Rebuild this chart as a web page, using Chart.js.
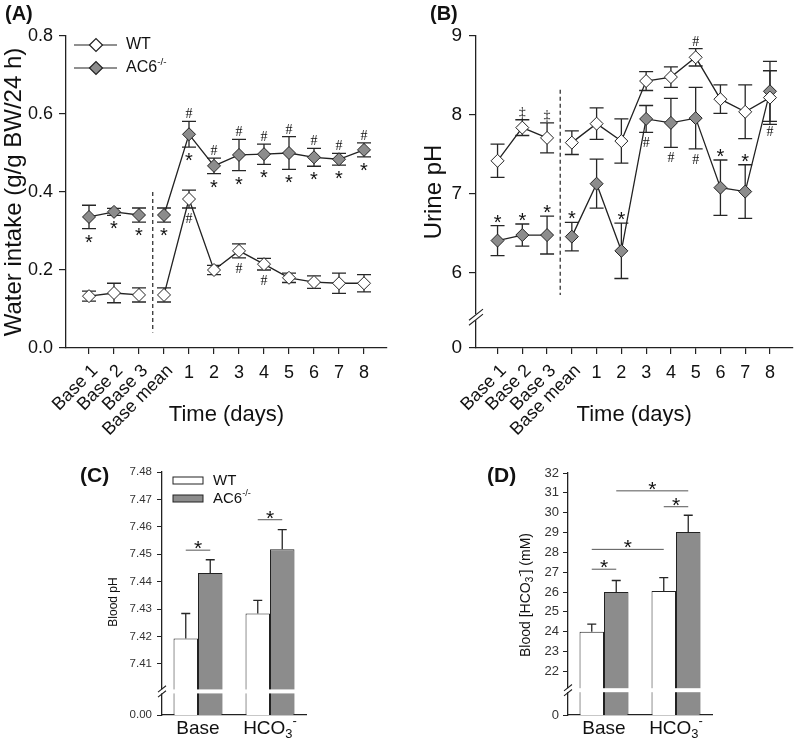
<!DOCTYPE html>
<meta charset="utf-8">
<title>AC6 water intake, urine pH and blood acid-base</title>
<script src="https://cdn.jsdelivr.net/npm/chart.js@4.4.1/dist/chart.umd.min.js"></script>
<style>
body {
	margin: 0;
	background: #fff;
}
canvas {
	position: absolute;
}
</style>

<canvas id="a" width="400" height="440" style="left:0;top:0"></canvas>
<canvas id="b" width="400" height="440" style="left:400px;top:0"></canvas>
<canvas id="c" width="400" height="301" style="left:0;top:440px"></canvas>
<canvas id="d" width="400" height="301" style="left:400px;top:440px"></canvas>

<script>
// x axis of the two time courses
const days = ['Base 1', 'Base 2', 'Base 3', 'Base mean', '1', '2', '3', '4', '5', '6', '7', '8'];

// (A) water intake, g/g BW/24 h
const wtWater = [0.133, 0.141, 0.136, 0.136, 0.382, 0.200, 0.249, 0.215, 0.180, 0.169, 0.166, 0.166];
const wtWaterErr = [0.013, 0.025, 0.018, 0.018, 0.023, 0.012, 0.018, 0.015, 0.012, 0.016, 0.026, 0.022];
const acWater = [0.336, 0.349, 0.341, 0.341, 0.548, 0.467, 0.495, 0.497, 0.500, 0.489, 0.484, 0.508];
const acWaterErr = [0.030, 0.009, 0.018, 0.018, 0.033, 0.020, 0.040, 0.026, 0.042, 0.023, 0.015, 0.018];
const wtWaterAbove = ['', '', '', '', '', '', '', '', '', '', '', ''];
const wtWaterBelow = ['', '', '', '', '#', '', '#', '#', '', '', '', ''];
const acWaterAbove = ['', '', '', '', '#', '#', '#', '#', '#', '#', '#', '#'];
const acWaterBelow = ['*', '*', '*', '*', '*', '*', '*', '*', '*', '*', '*', '*'];

// (B) urine pH
const wtUrine = [7.42, 7.84, 7.71, 7.65, 7.89, 7.67, 8.43, 8.48, 8.73, 8.20, 8.04, 8.22];
const wtUrineErr = [0.21, 0.10, 0.19, 0.15, 0.20, 0.28, 0.12, 0.13, 0.11, 0.18, 0.34, 0.34];
const acUrine = [6.41, 6.48, 6.48, 6.46, 7.13, 6.28, 7.95, 7.90, 7.96, 7.08, 7.03, 8.30];
const acUrineErr = [0.19, 0.14, 0.24, 0.18, 0.31, 0.35, 0.17, 0.31, 0.39, 0.35, 0.34, 0.38];
const wtUrineAbove = ['', '‡', '‡', '', '', '', '', '', '#', '', '', ''];
const wtUrineBelow = ['', '', '', '', '', '', '', '', '', '', '', ''];
const acUrineAbove = ['*', '*', '*', '*', '', '*', '', '', '', '*', '*', ''];
const acUrineBelow = ['', '', '', '', '', '', '#', '#', '#', '', '', '#'];
const urineTicks = [6, 7, 8, 9];

// (C) blood pH, (D) blood bicarbonate
const groups = ['Base', 'HCO3-'];
const wtBloodPh = [7.4193, 7.4284];
const wtBloodPhErr = [0.0091, 0.0048];
const acBloodPh = [7.4432, 7.4518];
const acBloodPhErr = [0.0048, 0.0072];
const bloodPhTicks = [7.41, 7.42, 7.43, 7.44, 7.45, 7.46, 7.47, 7.48];
// [dataset, index, dataset, index, height of the bracket]
const bloodPhSig = [[0, 0, 1, 0, 7.4515], [0, 1, 1, 1, 7.4626]];

const wtBicarb = [24.0, 26.05];
const wtBicarbErr = [0.38, 0.68];
const acBicarb = [26.0, 29.02];
const acBicarbErr = [0.58, 0.85];
const bicarbTicks = [22, 23, 24, 25, 26, 27, 28, 29, 30, 31, 32];
const bicarbSig = [[0, 0, 1, 0, 27.15], [0, 0, 0, 1, 28.15], [0, 1, 1, 1, 30.3], [1, 0, 1, 1, 31.1]];

const family = '"Liberation Sans", Arial, sans-serif';
const serif = '"Liberation Serif", "Times New Roman", serif';
const ink = '#222';
const gray = '#8c8c8c';

Chart.defaults.font.family = family;
Chart.defaults.color = '#111';
Chart.defaults.animation = false;

// text with sub/superscripts: parts are [text, size, dy]
function rich(ctx, parts, x, y, align) {
	let w = 0;
	parts.forEach(([t, size]) => {
		ctx.font = size + 'px ' + family;
		w += ctx.measureText(t).width;
	});
	let cx = align == 'center' ? x - w / 2 : x;
	ctx.textAlign = 'left';
	ctx.textBaseline = 'middle';
	parts.forEach(([t, size, dy]) => {
		ctx.font = size + 'px ' + family;
		ctx.fillText(t, cx, y + (dy || 0));
		cx += ctx.measureText(t).width;
	});
}

function labelParts(label, size) {
	if (label == 'AC6-/-') return [['AC6', size], ['-/-', size * 0.62, -size * 0.35]];
	if (label == 'HCO3-') return [['HCO', size], ['3', size * 0.68, size * 0.3], ['-', size * 0.68, -size * 0.4]];
	return [[label, size]];
}

function panelLabel(chart, text, x, y, size) {
	const ctx = chart.ctx;
	ctx.save();
	ctx.fillStyle = '#111';
	ctx.font = 'bold ' + size + 'px ' + family;
	ctx.textAlign = 'left';
	ctx.textBaseline = 'middle';
	ctx.fillText(text, x, y);
	ctx.restore();
}

function errorBars(chart, cap, upOnly) {
	const {ctx, scales: {x, y}} = chart;
	ctx.save();
	ctx.strokeStyle = '#262626';
	ctx.lineWidth = 1.3;
	chart.data.datasets.forEach((ds, di) => {
		const meta = chart.getDatasetMeta(di);
		ds.values.forEach((v, i) => {
			const px = upOnly ? meta.data[i].x : x.getPixelForValue(i);
			const top = y.getPixelForValue(v + ds.errors[i]);
			const bot = y.getPixelForValue(upOnly ? v : v - ds.errors[i]);
			ctx.beginPath();
			ctx.moveTo(px, top);
			ctx.lineTo(px, bot);
			ctx.moveTo(px - cap, top);
			ctx.lineTo(px + cap, top);
			if (!upOnly) {
				ctx.moveTo(px - cap, bot);
				ctx.lineTo(px + cap, bot);
			}
			ctx.stroke();
		});
	});
	ctx.restore();
}

function drawMark(ctx, s, x, y, where) {
	if (s == '*') {
		ctx.font = '20px ' + family;
		ctx.fillText(s, x, where == 'above' ? y + 3 : y + 20);
	} else {
		ctx.font = '14px ' + serif;
		ctx.fillText(s, x, where == 'above' ? y - 3 : y + 15);
	}
}

function marks(chart) {
	const {ctx, scales: {x, y}} = chart;
	ctx.save();
	ctx.fillStyle = '#111';
	ctx.textAlign = 'center';
	ctx.textBaseline = 'alphabetic';
	chart.data.datasets.forEach(ds => {
		ds.values.forEach((v, i) => {
			const px = x.getPixelForValue(i);
			if (ds.above[i]) drawMark(ctx, ds.above[i], px, y.getPixelForValue(v + ds.errors[i]), 'above');
			if (ds.below[i]) drawMark(ctx, ds.below[i], px, y.getPixelForValue(v - ds.errors[i]), 'below');
		});
	});
	ctx.restore();
}

function dashedLine(chart, at, from, to) {
	const {ctx, scales: {x, y}} = chart;
	ctx.save();
	ctx.strokeStyle = ink;
	ctx.lineWidth = 1.2;
	ctx.setLineDash([4, 3]);
	ctx.beginPath();
	ctx.moveTo(x.getPixelForValue(at), y.getPixelForValue(from));
	ctx.lineTo(x.getPixelForValue(at), y.getPixelForValue(to));
	ctx.stroke();
	ctx.restore();
}

function dayLabels(chart) {
	const {ctx, scales: {x}, chartArea} = chart;
	ctx.save();
	ctx.fillStyle = '#111';
	ctx.font = '18px ' + family;
	days.forEach((d, i) => {
		const px = x.getPixelForValue(i);
		if (d.startsWith('Base')) {
			ctx.save();
			ctx.translate(px + 6, chartArea.bottom + 20);
			ctx.rotate(-Math.PI / 4);
			ctx.textAlign = 'right';
			ctx.textBaseline = 'middle';
			ctx.fillText(d, 0, 0);
			ctx.restore();
		} else {
			ctx.textAlign = 'center';
			ctx.textBaseline = 'middle';
			ctx.fillText(d, px, chartArea.bottom + 25);
		}
	});
	ctx.restore();
}

// broken axis: gap in the y axis with two slashes
function axisBreak(chart, value, half, band) {
	const {ctx, scales: {y}, chartArea} = chart;
	const py = y.getPixelForValue(value);
	const ax = chartArea.left;
	ctx.save();
	ctx.fillStyle = '#fff';
	if (band) ctx.fillRect(ax - 2, py - 2, chartArea.right - ax + 2, 4);
	else ctx.fillRect(ax - 2, py - 3, 4, 6);
	ctx.strokeStyle = ink;
	ctx.lineWidth = 1.1;
	ctx.beginPath();
	[-2.5, 2.5].forEach(k => {
		ctx.moveTo(ax - half, py + k + half * 0.8);
		ctx.lineTo(ax + half, py + k - half * 0.8);
	});
	ctx.stroke();
	ctx.restore();
}

function lineLegend(chart) {
	const {ctx, chartArea: {left, top}} = chart;
	ctx.save();
	chart.data.datasets.forEach((ds, k) => {
		const y = top + 9 + k * 23;
		ctx.strokeStyle = ink;
		ctx.lineWidth = 1.2;
		ctx.beginPath();
		ctx.moveTo(left + 8, y);
		ctx.lineTo(left + 51, y);
		ctx.stroke();
		ctx.fillStyle = ds.pointBackgroundColor;
		Chart.helpers.drawPoint(ctx, {pointStyle: 'rectRot', radius: 6.5, borderWidth: 1}, left + 30, y);
		ctx.fillStyle = '#111';
		rich(ctx, labelParts(ds.label, 16), left + 60, y, 'left');
	});
	ctx.restore();
}

function barLegend(chart) {
	const {ctx, chartArea: {left, top}} = chart;
	ctx.save();
	chart.data.datasets.forEach((ds, k) => {
		const y = top + 5 + k * 18;
		ctx.fillStyle = ds.backgroundColor;
		ctx.fillRect(left + 11, y, 30, 7);
		ctx.strokeStyle = ink;
		ctx.lineWidth = 1;
		ctx.strokeRect(left + 11, y, 30, 7);
		ctx.fillStyle = '#111';
		rich(ctx, labelParts(ds.label, 15), left + 51, y + 4, 'left');
	});
	ctx.restore();
}

function sigBars(chart, sig) {
	const {ctx, scales: {y}} = chart;
	ctx.save();
	sig.forEach(([da, ia, db, ib, v]) => {
		const x1 = chart.getDatasetMeta(da).data[ia].x;
		const x2 = chart.getDatasetMeta(db).data[ib].x;
		const py = y.getPixelForValue(v);
		ctx.strokeStyle = '#555';
		ctx.lineWidth = 1;
		ctx.beginPath();
		ctx.moveTo(x1, py);
		ctx.lineTo(x2, py);
		ctx.stroke();
		ctx.fillStyle = '#111';
		ctx.font = '21px ' + family;
		ctx.textAlign = 'center';
		ctx.textBaseline = 'alphabetic';
		ctx.fillText('*', (x1 + x2) / 2, py + 5);
	});
	ctx.restore();
}

function groupLabels(chart) {
	const {ctx, scales: {x}, chartArea} = chart;
	ctx.save();
	ctx.fillStyle = '#111';
	groups.forEach((g, i) => {
		rich(ctx, labelParts(g, 19), x.getPixelForValue(i), chartArea.bottom + 14, 'center');
	});
	ctx.restore();
}

const withBreak = vals => vals.flatMap((v, i) => i == 2 ? [{x: i, y: v}, {x: 2.5, y: null}] : [{x: i, y: v}]);

function series(label, vals, errs, above, below, fill) {
	return {
		label: label,
		data: withBreak(vals),
		values: vals,
		errors: errs,
		above: above,
		below: below,
		borderColor: ink,
		borderWidth: 1.3,
		tension: 0,
		spanGaps: false,
		pointStyle: 'rectRot',
		pointRadius: 6.5,
		pointBackgroundColor: fill,
		pointBorderColor: ink,
		pointBorderWidth: 1,
	};
}

function lineChart(id, o) {
	return new Chart(document.getElementById(id), {
		type: 'line',
		data: {datasets: o.datasets},
		options: {
			responsive: false,
			events: [],
			layout: {padding: {left: 0, top: 36, right: o.right, bottom: 0}},
			plugins: {legend: {display: false}, tooltip: {enabled: false}},
			scales: {
				x: {
					type: 'linear',
					min: o.xMin,
					max: o.xMax,
					afterBuildTicks: s => { s.ticks = days.map((d, i) => ({value: i})); },
					afterFit: s => { s.height = 92; },
					ticks: {display: false},
					grid: {drawOnChartArea: false, tickLength: 6, color: ink, lineWidth: 1.2},
					border: {color: ink, width: 1.3},
					title: {display: true, text: 'Time (days)', color: '#111', font: {size: 22}, padding: {top: 0, bottom: 12}},
				},
				y: {
					min: o.yMin,
					max: o.yMax,
					afterBuildTicks: o.yTicks ? s => { s.ticks = o.yTicks.map(v => ({value: v})); } : undefined,
					afterFit: s => { s.width = o.yWidth; },
					ticks: {stepSize: o.step, callback: o.fmt, font: {size: o.tickSize}, color: '#111', padding: o.tickPad},
					grid: {drawOnChartArea: false, tickLength: 7, color: ink, lineWidth: 1.2},
					border: {color: ink, width: 1.3},
					title: {display: true, text: o.title, color: '#111', font: {size: 24}, padding: {top: o.titlePad, bottom: 0}},
				},
			},
		},
		plugins: [{
			id: 'extras',
			beforeDatasetsDraw(chart) {
				dashedLine(chart, o.dashAt, o.dashFrom, o.dashTo);
				errorBars(chart, 7, false);
			},
			afterDatasetsDraw(chart) {
				marks(chart);
			},
			afterDraw(chart) {
				dayLabels(chart);
				if (o.breakAt) axisBreak(chart, o.breakAt, 7, false);
				if (o.legend) lineLegend(chart);
				panelLabel(chart, o.panel, o.panelX, 14, 20);
			},
		}],
	});
}

lineChart('a', {
	datasets: [
		series('WT', wtWater, wtWaterErr, wtWaterAbove, wtWaterBelow, '#fff'),
		series('AC6-/-', acWater, acWaterErr, acWaterAbove, acWaterBelow, gray),
	],
	xMin: -0.92, xMax: 11.92,
	yMin: 0, yMax: 0.8, step: 0.2,
	fmt: v => v.toFixed(1),
	yWidth: 66, right: 13, tickSize: 18, tickPad: 6,
	title: 'Water intake (g/g BW/24 h)', titlePad: 0,
	dashAt: 2.55, dashFrom: 0.4, dashTo: 0.04,
	legend: true,
	panel: '(A)', panelX: 5,
});

lineChart('b', {
	datasets: [
		series('WT', wtUrine, wtUrineErr, wtUrineAbove, wtUrineBelow, '#fff'),
		series('AC6-/-', acUrine, acUrineErr, acUrineAbove, acUrineBelow, gray),
	],
	xMin: -0.87, xMax: 11.91,
	yMin: 5.05, yMax: 9,
	yTicks: [5.05].concat(urineTicks),
	fmt: v => v < 6 ? '0' : String(v),
	yWidth: 76, right: 1, tickSize: 19, tickPad: 7,
	title: 'Urine pH', titlePad: 20,
	dashAt: 2.53, dashFrom: 8.32, dashTo: 5.72,
	breakAt: 5.44,
	legend: false,
	panel: '(B)', panelX: 30,
});

function barChart(id, o) {
	return new Chart(document.getElementById(id), {
		type: 'bar',
		data: {
			labels: groups,
			datasets: [
				{label: 'WT', data: o.wt, values: o.wt, errors: o.wtErr, backgroundColor: '#fff', borderColor: ink, borderWidth: 1},
				{label: 'AC6-/-', data: o.ac, values: o.ac, errors: o.acErr, backgroundColor: gray, borderColor: ink, borderWidth: 1},
			],
		},
		options: {
			responsive: false,
			events: [],
			categoryPercentage: 0.68,
			barPercentage: 1,
			layout: {padding: {left: o.left, top: o.top, right: o.right, bottom: 0}},
			plugins: {legend: {display: false}, tooltip: {enabled: false}},
			scales: {
				x: {
					afterFit: s => { s.height = 26; },
					ticks: {display: false},
					grid: {display: false},
					border: {color: ink, width: 1.3},
				},
				y: {
					min: o.yMin,
					max: o.yMax,
					afterBuildTicks: s => { s.ticks = [o.yMin].concat(o.ticks).map(v => ({value: v})); },
					afterFit: s => { s.width = o.yWidth; },
					ticks: {callback: o.fmt, font: {size: o.tickSize}, color: '#333', padding: o.tickPad},
					grid: {drawOnChartArea: false, tickLength: 5, color: ink, lineWidth: 1},
					border: {color: ink, width: 1.3},
				},
			},
		},
		plugins: [{
			id: 'extras',
			afterDatasetsDraw(chart) {
				errorBars(chart, 4.5, true);
				sigBars(chart, o.sig);
			},
			afterDraw(chart) {
				axisBreak(chart, o.breakAt, 4, true);
				groupLabels(chart);
				if (o.legend) barLegend(chart);
				const ctx = chart.ctx;
				ctx.save();
				ctx.fillStyle = '#111';
				ctx.translate(o.titleX, o.titleY);
				ctx.rotate(-Math.PI / 2);
				rich(ctx, o.title, 0, 0, 'center');
				ctx.restore();
				panelLabel(chart, o.panel, o.panelX, 36, 21);
			},
		}],
	});
}

barChart('c', {
	wt: wtBloodPh, wtErr: wtBloodPhErr, ac: acBloodPh, acErr: acBloodPhErr,
	yMin: 7.3914, yMax: 7.48, ticks: bloodPhTicks,
	fmt: v => v < 7.405 ? '0.00' : v.toFixed(2),
	left: 100, top: 32, right: 94, yWidth: 62, tickSize: 11.5, tickPad: 5,
	sig: bloodPhSig, breakAt: 7.40,
	legend: true,
	title: [['Blood pH', 12]], titleX: 114, titleY: 162,
	panel: '(C)', panelX: 80,
});

barChart('d', {
	wt: wtBicarb, wtErr: wtBicarbErr, ac: acBicarb, acErr: acBicarbErr,
	yMin: 19.8, yMax: 32, ticks: bicarbTicks,
	fmt: v => v < 21 ? '0' : String(v),
	left: 100, top: 33, right: 88, yWidth: 68, tickSize: 13, tickPad: 4,
	sig: bicarbSig, breakAt: 21.05,
	legend: false,
	title: [['Blood [HCO', 14], ['3', 10, 4], ['-', 10, -6], ['] (mM)', 14]], titleX: 126, titleY: 155,
	panel: '(D)', panelX: 87,
});
</script>
